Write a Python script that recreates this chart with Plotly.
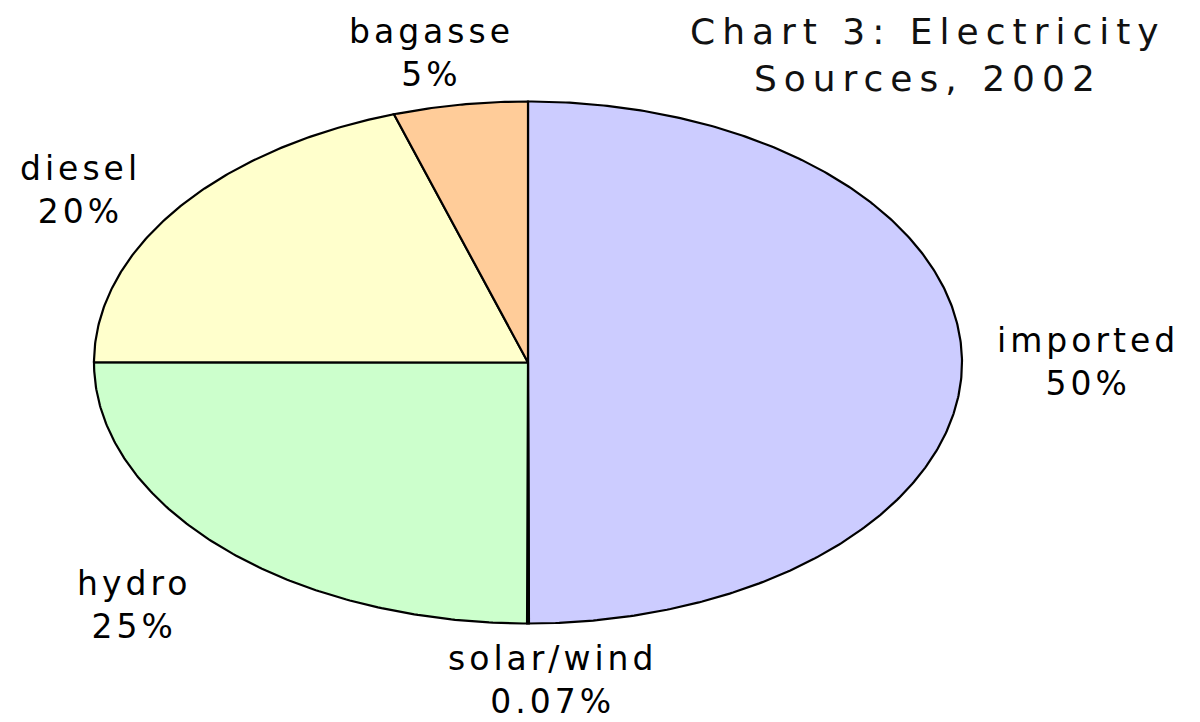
import numpy as np
import plotly.graph_objects as go

# ---- data ----
labels = ["imported", "solar/wind", "hydro", "diesel", "bagasse"]
values = [50, 0.07, 25, 20, 5]
value_text = ["50%", "0.07%", "25%", "20%", "5%"]
colors = ["#CCCCFF", "#CCFFCC", "#CCFFCC", "#FFFFCC", "#FFCC99"]
title_lines = ["Chart 3: Electricity", "Sources, 2002"]

# ---- layout constants (pixels); page body adds an 8px offset ----
OFF = 8
W, H = 1200, 722
CX, CY = 528 - OFF, 362.5 - OFF
RX, RY = 434, 261

fig = go.Figure()

total = sum(values)
start = 0.0
for lab, val, col in zip(labels, values, colors):
    end = start + val / total * 2 * np.pi
    n = max(3, int(np.ceil((end - start) / (2 * np.pi) * 720)))
    th = np.linspace(start, end, n)
    xs = np.concatenate([[0.0], np.sin(th), [0.0]])
    ys = np.concatenate([[0.0], np.cos(th), [0.0]])
    fig.add_trace(go.Scatter(
        x=xs, y=ys, mode="lines", fill="toself", fillcolor=col,
        line=dict(color="black", width=2.2), name=lab, showlegend=False,
        hoverinfo="text", text=f"{lab} {val}%"))
    start = end

xr = [-CX / RX, (W - CX) / RX]
yr = [-(H - CY) / RY, CY / RY]
fig.update_xaxes(range=xr, visible=False, fixedrange=True)
fig.update_yaxes(range=yr, visible=False, fixedrange=True)

label_pos = {
    "imported": (1088, 362),
    "solar/wind": (552, 680),
    "hydro": (134, 605),
    "diesel": (80, 190),
    "bagasse": (431, 53),
}

LS = "letter-spacing:4px"
for lab, vt in zip(labels, value_text):
    px, py = label_pos[lab]
    fig.add_annotation(
        x=(px - OFF) / W, y=1 - (py - OFF) / H, xref="paper", yref="paper",
        text=f"<span style='{LS}'>{lab}</span><br><span style='{LS}'>{vt}</span>",
        showarrow=False, xanchor="center", yanchor="middle", align="center",
        font=dict(family="DejaVu Sans", size=33, color="#000000"))

fig.add_annotation(
    x=(928 - OFF) / W, y=1 - (55 - OFF) / H, xref="paper", yref="paper",
    text="<br>".join(f"<span style='letter-spacing:7px'>{t}</span>" for t in title_lines),
    showarrow=False, xanchor="center", yanchor="middle", align="center",
    font=dict(family="DejaVu Sans", size=36, color="#111111"))

fig.update_layout(
    width=W, height=H, margin=dict(l=0, r=0, t=0, b=0),
    paper_bgcolor="white", plot_bgcolor="white", showlegend=False)

fig.write_html("out.html")
